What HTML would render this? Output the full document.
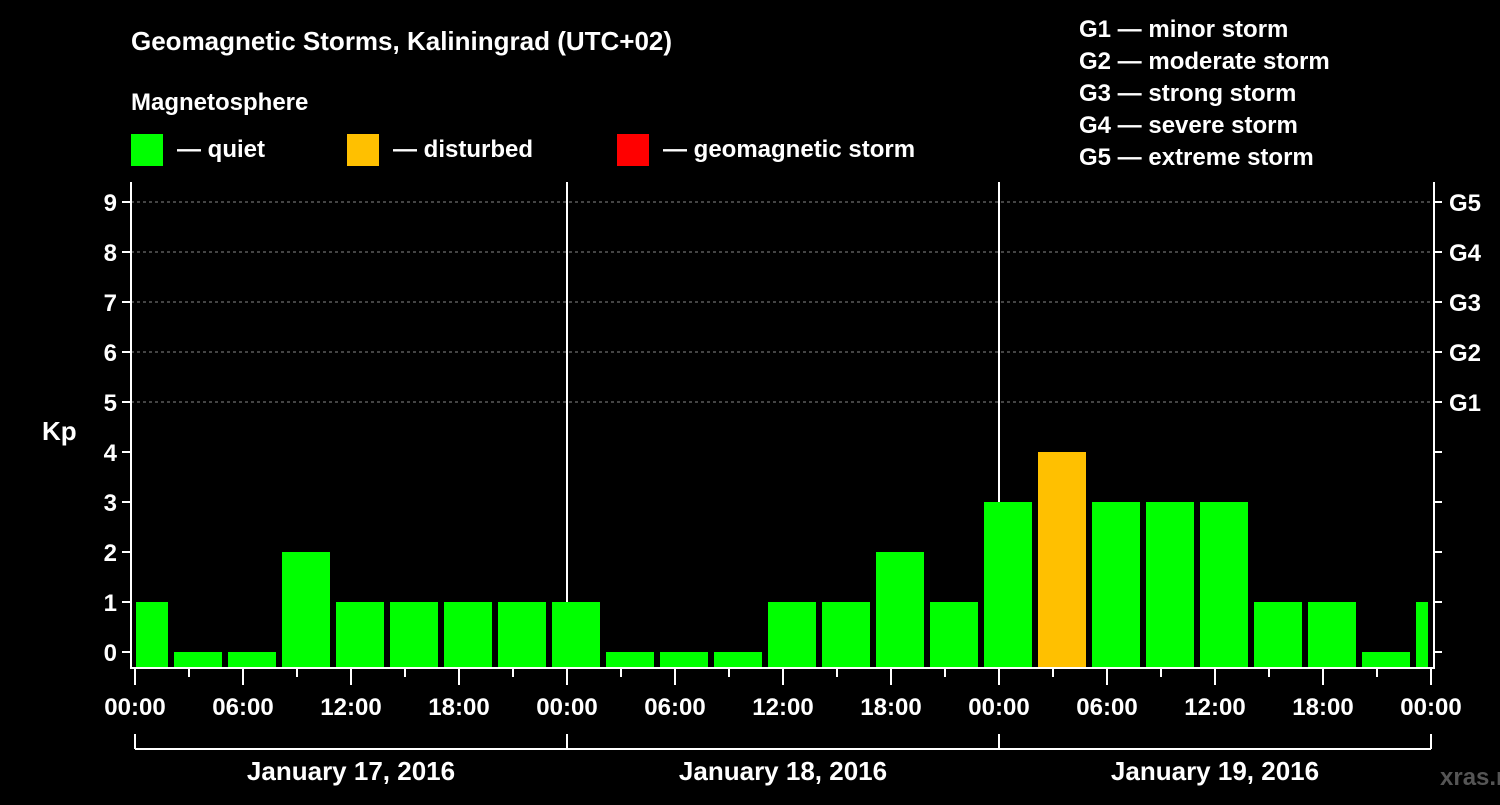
<!DOCTYPE html>
<html><head><meta charset="utf-8"><style>
body{margin:0;background:#000;width:1500px;height:800px;overflow:hidden}
svg text{font-family:"Liberation Sans",Arial,sans-serif;font-weight:bold;fill:#fff}
</style></head><body>
<svg id="c" width="1500" height="800">
<text x="131" y="50" font-size="26">Geomagnetic Storms, Kaliningrad (UTC+02)</text>
<text x="131" y="110" font-size="24">Magnetosphere</text>
<g><rect x="131" y="134" width="32" height="32" fill="#00ff00"/><text x="177" y="157" font-size="24">— quiet</text></g>
<g><rect x="347" y="134" width="32" height="32" fill="#ffc000"/><text x="393" y="157" font-size="24">— disturbed</text></g>
<g><rect x="617" y="134" width="32" height="32" fill="#ff0000"/><text x="663" y="157" font-size="24">— geomagnetic storm</text></g>
<g font-size="24">
<text x="1079" y="37">G1 — minor storm</text>
<text x="1079" y="69">G2 — moderate storm</text>
<text x="1079" y="101">G3 — strong storm</text>
<text x="1079" y="133">G4 — severe storm</text>
<text x="1079" y="165">G5 — extreme storm</text>
</g>
<text x="42" y="440" font-size="26">Kp</text>
<text x="1440" y="785" font-size="24" fill="#555" style="fill:#555">xras.ru</text>
<g id="grid"></g><g id="bars"></g><g id="axes"></g>
</svg>
<script>
const kpValues=[1,0,0,2,1,1,1,1, 1,0,0,0,1,1,2,1, 3,4,3,3,3,1,1,0, 1];
const dayLabels=["January 17, 2016","January 18, 2016","January 19, 2016"];
const hourLabels=["00:00","06:00","12:00","18:00"];
const gLabels=["G1","G2","G3","G4","G5"];
const NS="http://www.w3.org/2000/svg";
const L=131,R=1434,T=182,B=668,X0=135,DAY=432;
const x=h=>X0+h*DAY/24;
const y=k=>652-k*50;
function mk(tag,a,p){const e=document.createElementNS(NS,tag);for(const k in a)e.setAttribute(k,a[k]);p.appendChild(e);return e;}
const grid=document.getElementById('grid'),bars=document.getElementById('bars'),axes=document.getElementById('axes');
for(let k=5;k<=9;k++){const l=mk('line',{x1:L,x2:R,y1:y(k),y2:y(k),stroke:'#888','stroke-dasharray':'3,3','stroke-width':1},grid);

}
kpValues.forEach((v,i)=>{const t=x(i*3);let x1=Math.max(t-15,L+5),x2=Math.min(t+33,R-6);
const r=mk('rect',{x:x1,y:y(v),width:x2-x1,height:B-1-y(v),fill:v>=5?'#ff0000':(v>=4?'#ffc000':'#00ff00')},bars);

});
for(let d=1;d<3;d++){const l=mk('line',{x1:x(d*24),x2:x(d*24),y1:T,y2:B,stroke:'#fff','stroke-width':2},grid);

}
const fr=mk('path',{d:`M${L},${T} V${B} H${R} V${T}`,stroke:'#fff','stroke-width':2,fill:'none'},axes);


for(let k=0;k<=9;k++){
mk('line',{x1:L-9,x2:L,y1:y(k),y2:y(k),stroke:'#fff','stroke-width':2},axes);
mk('line',{x1:R,x2:R+8,y1:y(k),y2:y(k),stroke:'#fff','stroke-width':2},axes);
const t=mk('text',{x:L-14,y:y(k)+9,'font-size':24,'text-anchor':'end'},axes);t.textContent=k;


if(k>=5){const g=mk('text',{x:1449,y:y(k)+9,'font-size':24},axes);g.textContent=gLabels[k-5];

}}
for(let h=0;h<=72;h+=3){const major=h%6===0;
mk('line',{x1:x(h),x2:x(h),y1:B,y2:B+(major?17:9),stroke:'#fff','stroke-width':2},axes);
if(major){const t=mk('text',{x:x(h),y:715,'font-size':24,'text-anchor':'middle'},axes);t.textContent=hourLabels[(h%24)/6];

}}
mk('line',{x1:x(0),x2:x(72),y1:749,y2:749,stroke:'#fff','stroke-width':2},axes);
for(let d=0;d<=3;d++)mk('line',{x1:x(d*24),x2:x(d*24),y1:734,y2:749,stroke:'#fff','stroke-width':2},axes);
dayLabels.forEach((s,d)=>{const t=mk('text',{x:x(d*24+12),y:780,'font-size':26,'text-anchor':'middle'},axes);t.textContent=s;

});
</script>
</body></html>
